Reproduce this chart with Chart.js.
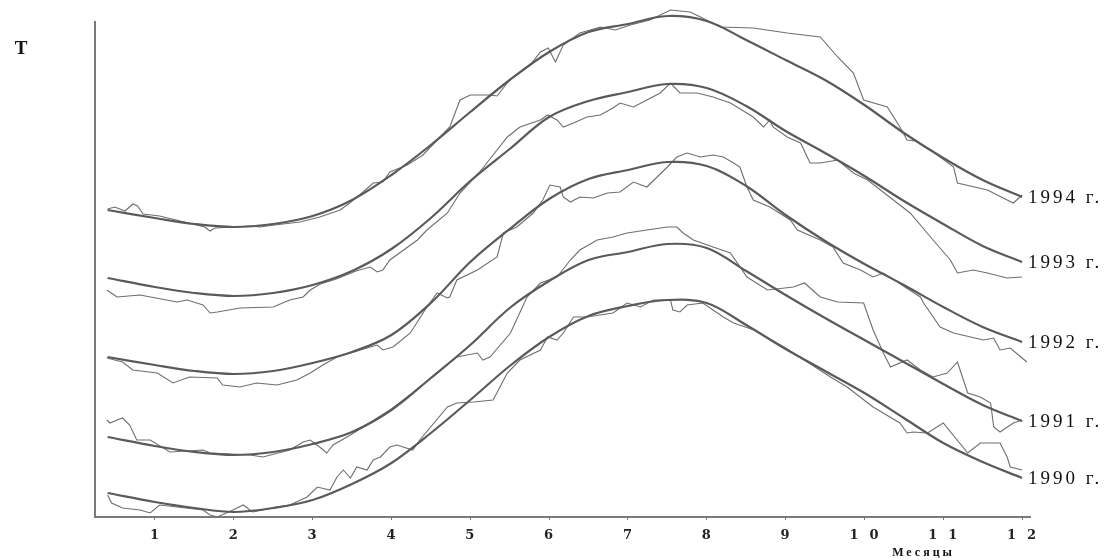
<!DOCTYPE html>
<html>
<head>
<meta charset="utf-8">
<script src="https://cdn.jsdelivr.net/npm/chart.js@4.4.1/dist/chart.umd.min.js"></script>
<style>
  html, body { margin: 0; padding: 0; background: #fff; }
  #wrap { width: 1110px; height: 560px; }
</style>
</head>
<body>
<div id="wrap"><canvas id="tempChart" width="1110" height="560"></canvas></div>
<script>
// ticks on the month axis
const monthTicks = [1, 2, 3, 4, 5, 6, 7, 8, 9, 10, 11, 12];
const yearLabels = ["1990 г.", "1991 г.", "1992 г.", "1993 г.", "1994 г."];

// months where the smoothed curves were read
const gridMonths = [0.4, 1, 1.5, 2, 2.5, 3, 3.5, 4, 4.5, 5, 5.5, 6, 6.5, 7, 7.5, 8, 8.5, 9, 9.5, 10, 10.5, 11, 11.5, 12];

// smoothed T (relative units, curves are stacked)
const smooth1990 = [24, 15, 9, 5, 9, 17, 33, 54, 84, 117, 151, 180, 201, 211, 217, 214, 192, 168, 146, 124, 99, 74, 55, 39];
const smooth1991 = [80, 71, 65, 62, 65, 73, 85, 107, 139, 172, 209, 236, 257, 265, 273, 269, 246, 222, 199, 177, 155, 133, 112, 96];
const smooth1992 = [160, 152, 146, 143, 146, 154, 165, 182, 214, 255, 288, 318, 338, 347, 355, 351, 331, 302, 276, 253, 232, 210, 190, 175];
const smooth1993 = [239, 230, 224, 221, 224, 232, 246, 268, 299, 336, 368, 400, 416, 425, 433, 429, 411, 386, 364, 341, 316, 293, 271, 255];
const smooth1994 = [307, 299, 293, 290, 293, 301, 317, 342, 372, 405, 437, 465, 485, 493, 501, 496, 477, 457, 437, 412, 384, 359, 337, 320];

// daily T, [month, value]
const daily1990 = [[0.40,22],[0.45,14],[0.59,9],[0.81,7],[0.94,4],[1.06,12],[1.28,10],[1.61,7],[1.70,2],[1.79,0],[1.99,7],[2.12,12],[2.24,5],[2.55,10],[2.71,12],[2.93,20],[3.06,30],[3.22,27],[3.31,40],[3.39,47],[3.48,39],[3.56,50],[3.69,47],[3.77,57],[3.86,60],[3.98,70],[4.07,72],[4.27,67],[4.36,77],[4.71,110],[4.83,114],[5.04,115],[5.29,117],[5.47,144],[5.63,157],[5.89,167],[5.98,180],[6.10,177],[6.18,184],[6.31,200],[6.48,200],[6.81,204],[6.99,214],[7.16,210],[7.32,217],[7.54,217],[7.57,207],[7.66,205],[7.75,212],[7.95,214],[8.08,207],[8.21,200],[8.34,194],[8.60,187],[9.00,169],[9.57,140],[9.78,130],[10.11,110],[10.45,94],[10.54,84],[10.62,85],[10.80,84],[11.00,94],[11.31,64],[11.47,74],[11.72,74],[11.81,60],[11.85,50],[12.0,47]];
const daily1991 = [[0.39,97],[0.43,94],[0.52,97],[0.59,99],[0.68,92],[0.77,77],[0.94,77],[1.19,65],[1.61,67],[1.70,64],[2.21,62],[2.37,60],[2.71,67],[2.88,75],[2.97,77],[3.09,70],[3.18,64],[3.26,72],[3.48,82],[3.64,90],[4.00,108],[4.30,126],[4.58,144],[4.83,160],[5.09,164],[5.16,157],[5.25,160],[5.51,184],[5.72,220],[5.89,234],[6.10,240],[6.27,257],[6.39,267],[6.61,277],[6.81,280],[6.99,284],[7.24,287],[7.50,290],[7.62,290],[7.70,284],[7.83,277],[8.08,270],[8.30,264],[8.51,240],[8.77,227],[9.10,230],[9.24,234],[9.44,220],[9.66,215],[9.99,214],[10.11,187],[10.24,164],[10.33,150],[10.54,157],[10.71,147],[10.87,140],[11.05,144],[11.18,155],[11.31,124],[11.47,120],[11.60,114],[11.64,90],[11.72,85],[11.89,94],[12.0,97]];
const daily1992 = [[0.39,159],[0.59,155],[0.72,147],[1.03,144],[1.23,134],[1.44,140],[1.79,139],[1.86,132],[2.08,130],[2.29,134],[2.55,132],[2.80,137],[2.97,144],[3.13,152],[3.31,160],[3.48,164],[3.73,170],[3.82,172],[3.89,167],[4.02,170],[4.24,184],[4.45,210],[4.58,224],[4.71,219],[4.74,220],[4.83,237],[5.09,247],[5.34,260],[5.42,284],[5.59,290],[5.80,304],[5.92,317],[6.01,332],[6.14,330],[6.18,320],[6.27,315],[6.39,320],[6.56,319],[6.74,324],[6.90,325],[7.07,335],[7.24,330],[7.37,340],[7.50,350],[7.62,360],[7.75,364],[7.92,360],[8.08,362],[8.21,360],[8.34,354],[8.42,350],[8.51,330],[8.59,317],[8.80,310],[9.06,297],[9.15,287],[9.44,277],[9.60,270],[9.73,254],[9.95,247],[10.11,240],[10.24,244],[10.71,220],[10.75,214],[10.96,190],[11.13,184],[11.51,177],[11.64,179],[11.72,167],[11.85,169],[12.06,155]];
const daily1993 = [[0.39,227],[0.52,220],[0.81,222],[1.28,215],[1.41,217],[1.61,212],[1.70,204],[1.79,205],[2.08,209],[2.50,210],[2.71,217],[2.88,220],[2.97,227],[3.10,233],[3.30,238],[3.55,246],[3.73,250],[3.82,245],[3.89,247],[3.98,257],[4.33,277],[4.45,287],[4.71,304],[4.87,324],[5.12,345],[5.25,358],[5.47,380],[5.63,390],[5.89,397],[5.98,402],[6.10,397],[6.18,390],[6.31,394],[6.48,400],[6.65,402],[6.81,409],[6.90,414],[7.07,410],[7.24,417],[7.41,424],[7.54,434],[7.66,424],[7.88,424],[8.08,420],[8.30,414],[8.59,400],[8.72,390],[8.80,397],[8.84,390],[9.02,380],[9.19,374],[9.31,354],[9.44,354],[9.66,357],[9.86,344],[10.04,337],[10.58,304],[10.87,277],[11.09,257],[11.18,244],[11.38,247],[11.56,244],[11.81,239],[12.0,240]];
const daily1994 = [[0.40,308],[0.49,310],[0.62,306],[0.72,313],[0.78,311],[0.85,303],[1.06,301],[1.32,296],[1.63,290],[1.70,286],[1.76,289],[2.21,291],[2.33,290],[2.52,292],[2.84,295],[3.09,300],[3.35,307],[3.47,314],[3.64,325],[3.77,334],[3.89,335],[3.98,345],[4.20,352],[4.40,362],[4.58,377],[4.74,390],[4.87,417],[5.00,422],[5.25,422],[5.34,421],[5.50,437],[5.76,452],[5.89,465],[5.99,469],[6.08,455],[6.18,472],[6.39,484],[6.65,490],[6.84,487],[7.03,492],[7.28,497],[7.54,507],[7.79,505],[7.92,500],[8.17,490],[8.59,489],[9.02,484],[9.44,480],[9.66,460],[9.86,444],[9.99,417],[10.29,410],[10.45,390],[10.54,377],[10.65,376],[10.84,367],[11.13,350],[11.18,334],[11.56,327],[11.81,317],[11.89,314],[12.0,322]];

const smoothSeries = [smooth1990, smooth1991, smooth1992, smooth1993, smooth1994];
const dailySeries = [daily1990, daily1991, daily1992, daily1993, daily1994];

const datasets = [];
smoothSeries.forEach((vals, i) => {
  datasets.push({
    label: yearLabels[i],
    data: vals.map((v, j) => ({ x: gridMonths[j], y: v })),
    borderColor: "#5a5a5a",
    borderWidth: 2.2,
    pointRadius: 0,
    tension: 0.35,
  });
  datasets.push({
    label: yearLabels[i] + " (сут.)",
    data: dailySeries[i].map((p) => ({ x: p[0], y: p[1] })),
    borderColor: "#6e6e6e",
    borderWidth: 1.1,
    pointRadius: 0,
    tension: 0,
  });
});

// labels, axis letter and title
const textPlugin = {
  id: "curveText",
  beforeDraw(chart) {
    chart.ctx.letterSpacing = "11px"; // wide month numbers
  },
  afterDraw(chart) {
    const ctx = chart.ctx;
    const xs = chart.scales.x;
    const ys = chart.scales.y;
    ctx.save();
    ctx.fillStyle = "#111";
    ctx.textBaseline = "middle";
    ctx.textAlign = "left";
    ctx.letterSpacing = "3px";
    ctx.font = '19px "Liberation Serif"';
    yearLabels.forEach((label, i) => {
      const vals = smoothSeries[i];
      ctx.fillText(label, chart.chartArea.right - 2, ys.getPixelForValue(vals[vals.length - 1]) + 1);
    });
    ctx.textAlign = "center";
    ctx.letterSpacing = "0px";
    ctx.font = 'bold 19px "Liberation Serif"';
    ctx.fillText("T", 21, 49);
    ctx.letterSpacing = "3px";
    ctx.font = 'bold 12px "Liberation Serif"';
    ctx.fillText("Месяцы", xs.getPixelForValue(10.75), 553);
    ctx.restore();
    ctx.letterSpacing = "0px";
  },
};

const ctx = document.getElementById("tempChart").getContext("2d");
new Chart(ctx, {
  type: "line",
  data: { datasets: datasets },
  options: {
    responsive: false,
    animation: false,
    clip: false,
    layout: { padding: { left: 95, right: 80, top: 22, bottom: 0 } },
    plugins: {
      legend: { display: false },
      tooltip: { enabled: false },
    },
    scales: {
      x: {
        type: "linear",
        min: 0.24,
        max: 12.1,
        afterBuildTicks: (s) => {
          s.ticks = monthTicks.map((v) => ({ value: v }));
        },
        afterFit: (s) => {
          s.height = 43;
        },
        border: { color: "#7a7a7a", width: 2 },
        grid: { drawOnChartArea: false, tickLength: 3, color: "#777" },
        ticks: {
          autoSkip: false,
          maxRotation: 0,
          padding: 8,
          labelOffset: 5,
          color: "#222",
          font: { family: "DejaVu Serif", weight: "bold", size: 13 },
        },
      },
      y: {
        min: 0,
        max: 495,
        afterFit: (s) => {
          s.width = 0;
        },
        border: { color: "#7a7a7a", width: 2 },
        grid: { display: false },
        ticks: { display: false },
      },
    },
  },
  plugins: [textPlugin],
});
</script>
</body>
</html>
